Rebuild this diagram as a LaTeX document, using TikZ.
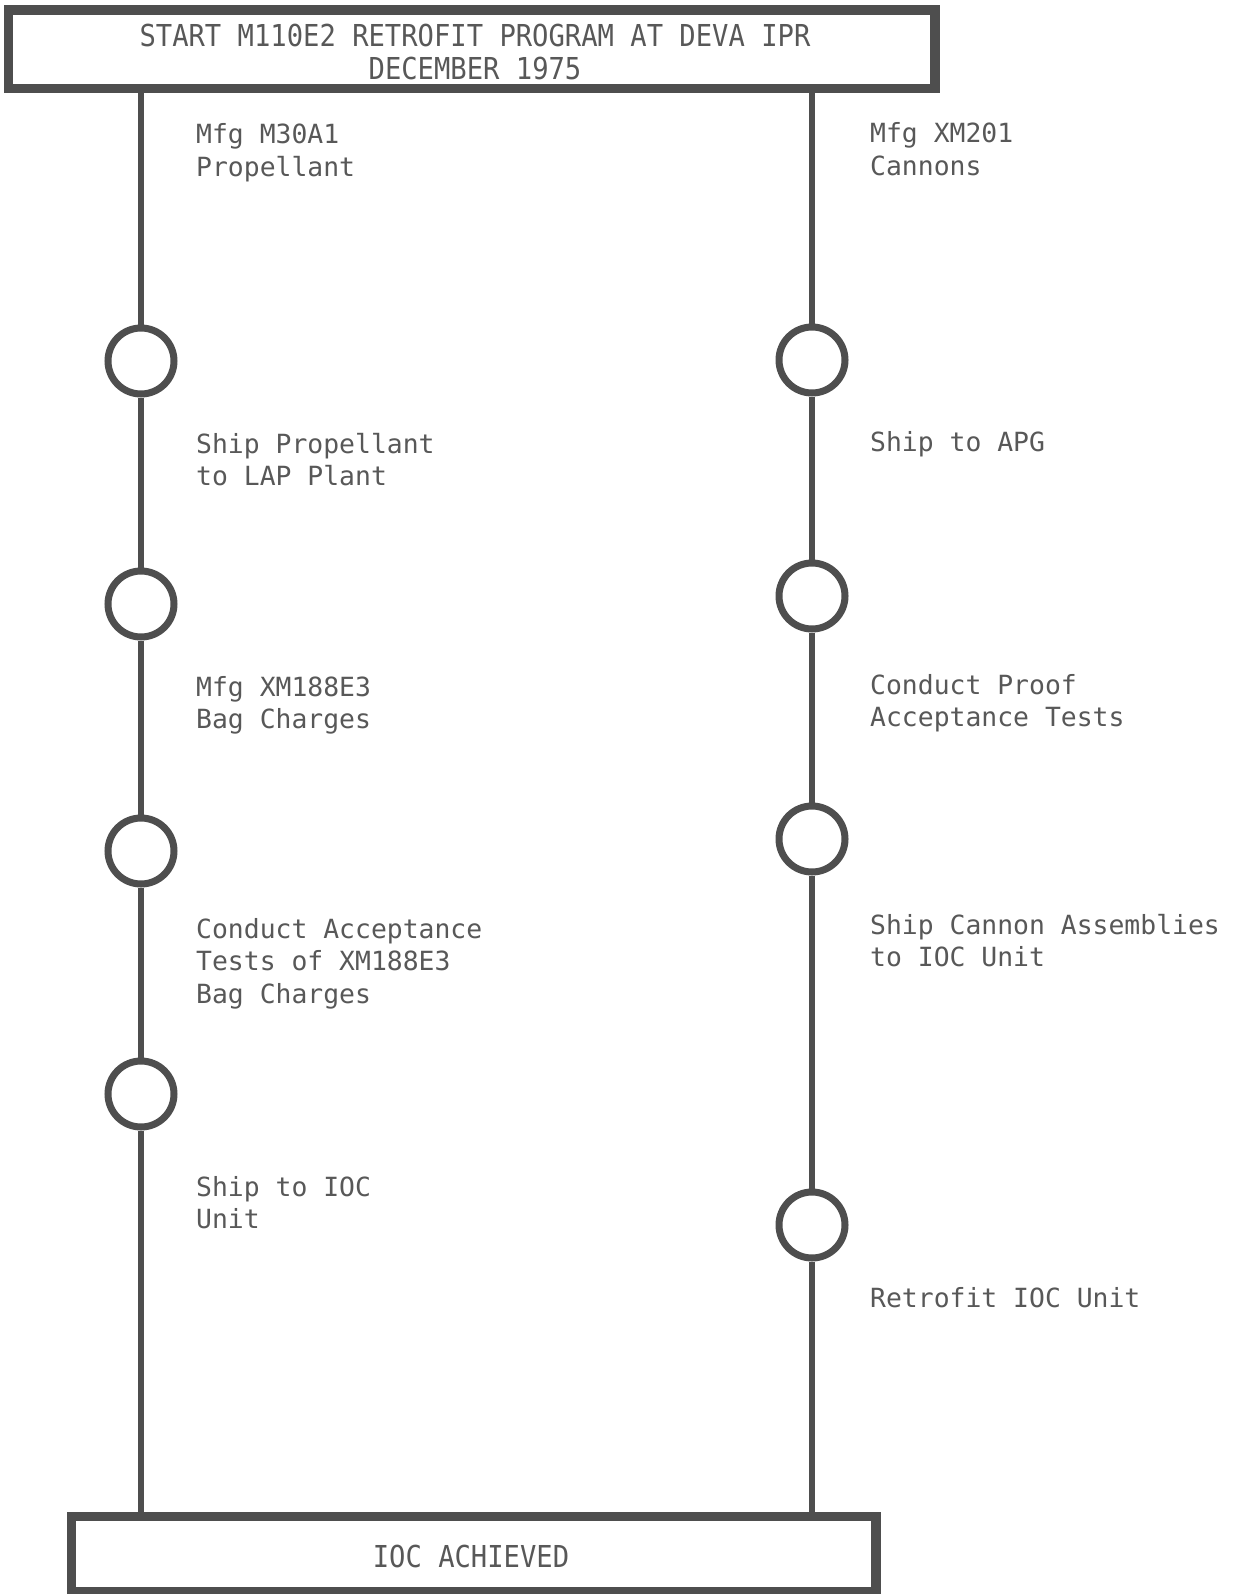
\documentclass[tikz,border=0pt]{standalone}
\usepackage{fontspec}
\newfontfamily\bodyfont{DejaVu Sans Mono}
\newfontfamily\headfont[FakeStretch=0.9]{DejaVu Sans Mono}
\definecolor{ink}{RGB}{78,78,78}
\definecolor{txt}{RGB}{88,88,88}
\begin{document}
\begin{tikzpicture}[x=1pt,y=-1pt,
  box/.style={draw=ink, line width=6.5pt, fill=white, inner sep=0pt},
  mile/.style={circle, draw=ink, line width=7pt, fill=white, minimum size=66pt, inner sep=0pt},
  link/.style={draw=ink, line width=6pt},
  lbl/.style={anchor=base west, align=left, inner sep=0pt, text=txt, font=\bodyfont\fontsize{26.4}{32.5}\selectfont},
  head/.style={anchor=base, align=center, inner sep=0pt, text=txt, font=\headfont\fontsize{30.2}{32.5}\selectfont}]
\useasboundingbox (0,0) rectangle (1240,1594);
% boxes
\node[box, minimum width=923pt, minimum height=75pt] (start) at (471.5,49.5) {};
\node[box, minimum width=801pt, minimum height=72pt] (ioc) at (473.5,1554) {};
% text anchored at the baseline of its last line
\node[head] (starttxt) at (475,79.5) {START M110E2 RETROFIT PROGRAM AT DEVA IPR\\DECEMBER 1975};
\node[head] (ioctxt) at (471,1567) {IOC ACHIEVED};
% milestones
\node[mile] (l1) at (141,361) {};
\node[mile] (l2) at (141,604) {};
\node[mile] (l3) at (141,851) {};
\node[mile] (l4) at (141,1094) {};
\node[mile] (r1) at (812,360) {};
\node[mile] (r2) at (812,596) {};
\node[mile] (r3) at (812,839) {};
\node[mile] (r4) at (812,1225) {};
% connectors
\draw[link] (start.south -| l1) -- (l1.north);
\draw[link] (l1.south) -- (l2.north);
\draw[link] (l2.south) -- (l3.north);
\draw[link] (l3.south) -- (l4.north);
\draw[link] (l4.south) -- (ioc.north -| l4);
\draw[link] (start.south -| r1) -- (r1.north);
\draw[link] (r1.south) -- (r2.north);
\draw[link] (r2.south) -- (r3.north);
\draw[link] (r3.south) -- (r4.north);
\draw[link] (r4.south) -- (ioc.north -| r4);
% redraw box outlines on top of line ends
\draw[ink, line width=6.5pt] (start.south west) rectangle (start.north east);
\draw[ink, line width=6.5pt] (ioc.south west) rectangle (ioc.north east);
% labels left
\node[lbl] (a1) at (196,176.5) {Mfg M30A1\\Propellant};
\node[lbl] (a2) at (196,485.5) {Ship Propellant\\to LAP Plant};
\node[lbl] (a3) at (196,728.5) {Mfg XM188E3\\Bag Charges};
\node[lbl] (a4) at (196,1003) {Conduct Acceptance\\Tests of XM188E3\\Bag Charges};
\node[lbl] (a5) at (196,1228.5) {Ship to IOC\\Unit};
% labels right
\node[lbl] (b1) at (870,175.5) {Mfg XM201\\Cannons};
\node[lbl] (b2) at (870,451) {Ship to APG};
\node[lbl] (b3) at (870,726.5) {Conduct Proof\\Acceptance Tests};
\node[lbl] (b4) at (870,966.5) {Ship Cannon Assemblies\\to IOC Unit};
\node[lbl] (b5) at (870,1307) {Retrofit IOC Unit};
\end{tikzpicture}
\end{document}
